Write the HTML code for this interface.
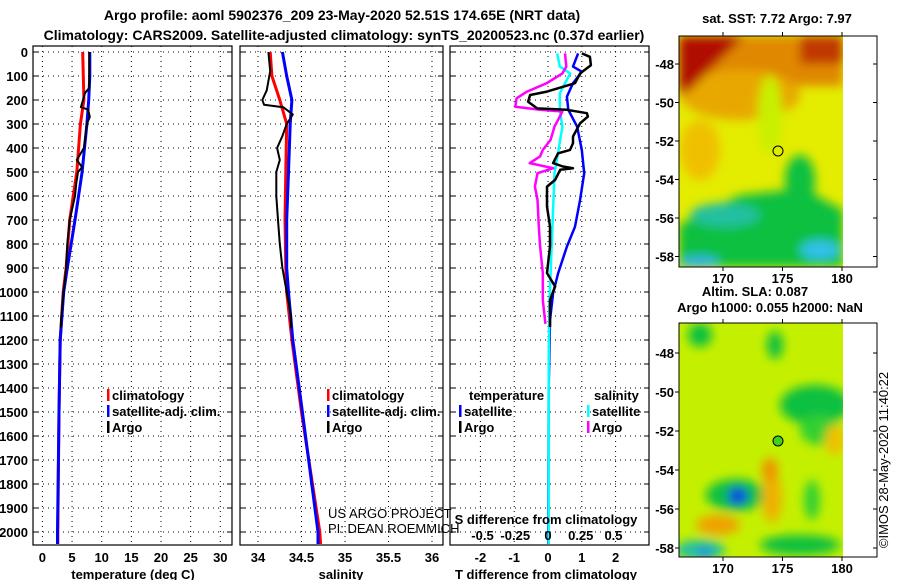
<!DOCTYPE html>
<html><head><meta charset="utf-8"><style>
body{margin:0;background:#fff;width:900px;height:580px;overflow:hidden;font-family:"Liberation Sans",sans-serif}
svg text{font-family:"Liberation Sans",sans-serif}
.t{font-size:13px;font-weight:bold}
.n{font-size:13px;font-weight:normal}
</style></head><body>
<svg id="c" width="900" height="580" viewBox="0 0 900 580">
<defs>
<filter id="bl" x="-20%" y="-20%" width="140%" height="140%"><feGaussianBlur stdDeviation="5"/></filter>
<clipPath id="m1"><rect x="679" y="36" width="164" height="231"/></clipPath>
<clipPath id="m2"><rect x="679" y="323" width="164" height="234"/></clipPath>
</defs>
<g>
<text x="342" y="20" text-anchor="middle" font-size="14" font-weight="bold">Argo profile: aoml 5902376_209 23-May-2020 52.51S 174.65E (NRT data)</text>
<text x="344" y="40" text-anchor="middle" font-size="14" font-weight="bold">Climatology: CARS2009. Satellite-adjusted climatology: synTS_20200523.nc (0.37d earlier)</text>
</g>
<g id="plots"></g>
<g>
<text x="777" y="23" text-anchor="middle" class="t">sat. SST: 7.72 Argo: 7.97</text>
<g clip-path="url(#m1)">
<rect x="679" y="36" width="164" height="231" fill="#e4ec00"/>
<g filter="url(#bl)">
<rect x="679" y="36" width="164" height="50" fill="#e08800"/>
<ellipse cx="740" cy="95" rx="60" ry="25" fill="#e8a800"/>
<ellipse cx="700" cy="150" rx="20" ry="30" fill="#f0c000"/>
<polygon points="679,36 745,36 720,60 690,90 679,95" fill="#b01000"/>
<rect x="800" y="36" width="43" height="28" fill="#c03800"/>
<ellipse cx="770" cy="115" rx="12" ry="40" fill="#c8f000"/>
<polygon points="679,225 740,195 790,190 805,160 815,195 843,210 843,267 679,267" fill="#10c040"/>
<ellipse cx="725" cy="215" rx="35" ry="12" fill="#20c0a0"/>
<ellipse cx="820" cy="250" rx="20" ry="10" fill="#30c0e8"/>
<ellipse cx="700" cy="262" rx="20" ry="6" fill="#30b0e8"/>
<ellipse cx="800" cy="180" rx="15" ry="25" fill="#10c040"/>
</g>
</g>
<rect x="679" y="36" width="198" height="231" fill="none" stroke="#000" stroke-width="1"/>
<circle cx="778" cy="151" r="5" fill="none" stroke="#000"/>
</g>
<g>
<text x="755" y="296" text-anchor="middle" class="t">Altim. SLA: 0.087</text>
<text x="770" y="312" text-anchor="middle" class="t">Argo h1000: 0.055 h2000: NaN</text>
<g clip-path="url(#m2)">
<rect x="679" y="323" width="164" height="234" fill="#c4f000"/>
<g filter="url(#bl)">
<ellipse cx="700" cy="335" rx="12" ry="12" fill="#10c040"/>
<ellipse cx="775" cy="345" rx="8" ry="14" fill="#10c040"/>
<ellipse cx="815" cy="405" rx="35" ry="20" fill="#10c040"/>
<ellipse cx="820" cy="430" rx="20" ry="15" fill="#30d030"/>
<ellipse cx="736" cy="495" rx="30" ry="16" fill="#10c040"/>
<ellipse cx="738" cy="496" rx="10" ry="9" fill="#1040e0"/>
<ellipse cx="700" cy="550" rx="25" ry="10" fill="#20c0a0"/>
<ellipse cx="705" cy="553" rx="7" ry="5" fill="#2080f0"/>
<ellipse cx="772" cy="498" rx="10" ry="25" fill="#f0b000"/>
<ellipse cx="770" cy="470" rx="8" ry="12" fill="#f09000"/>
<ellipse cx="718" cy="525" rx="22" ry="10" fill="#f0a000"/>
<ellipse cx="835" cy="440" rx="10" ry="15" fill="#f0c000"/>
<ellipse cx="800" cy="545" rx="40" ry="10" fill="#10c040"/>
<ellipse cx="812" cy="500" rx="8" ry="20" fill="#30d030"/>
</g>
</g>
<rect x="679" y="323" width="198" height="234" fill="none" stroke="#000" stroke-width="1"/>
<circle cx="778" cy="441" r="5" fill="#40d020" stroke="#000"/>
<text transform="translate(888,460) rotate(-90)" text-anchor="middle" font-size="13">©IMOS 28-May-2020 11:40:22</text>
</g>
</svg>
<script>
// ---- data ----
const depthTicks = [0,100,200,300,400,500,600,700,800,900,1000,1100,1200,1300,1400,1500,1600,1700,1800,1900,2000];
const tempTicks = [0,5,10,15,20,25,30];
const salTicks = [34,34.5,35,35.5,36];
const dtTicks = [-2,-1,0,1,2];
const dsTicks = [-0.5,-0.25,0,0.25,0.5];
const dsTickLabels = ['-0.5','-0.25','0','0.25','0.5'];

const climDepth = [0,100,200,300,500,700,900,1000,1200,1500,2000,2050];
const tempClim = [6.8,6.9,7.0,6.4,5.8,4.6,4.0,3.5,3.0,2.8,2.6,2.6];
const tempSat = [8.0,8.0,7.8,7.5,6.7,5.5,4.2,3.6,3.0,2.8,2.55,2.55];
const salClim = [34.14,34.16,34.25,34.33,34.32,34.31,34.32,34.33,34.39,34.5,34.71,34.72];
const salSat = [34.28,34.33,34.39,34.37,34.35,34.33,34.33,34.35,34.40,34.51,34.69,34.69];

const argoDepth = [0,150,170,230,240,270,300,400,450,480,500,550,600,700,800,900,1000,1100,1150];
const tempArgo = [7.9,7.9,7.2,6.5,7.7,8.0,7.5,7.0,5.8,6.7,6.0,5.7,5.5,4.6,4.2,4.0,3.6,3.2,3.1];
const salArgoDepth = [0,80,160,200,220,230,260,300,350,400,450,500,600,700,800,900,1000,1100,1150];
const salArgo = [34.12,34.14,34.10,34.05,34.07,34.29,34.40,34.33,34.28,34.22,34.25,34.21,34.21,34.23,34.25,34.28,34.33,34.38,34.38];

const dtSatDepth = [6,61,82,130,186,241,311,408,505,616,728,811,922,1005,1117,1400,2050];
const dtSat = [0.89,0.74,1.0,0.74,0.56,0.6,0.86,1.0,1.07,0.95,0.8,0.56,0.3,0.15,0.06,0.02,0.01];
const dtArgoDepth = [6,20,55,89,130,165,179,207,235,241,255,269,297,352,380,408,422,463,477,484,491,533,561,602,644,727,810,921,977,1033,1146];
const dtArgo = [1.0,1.24,1.27,0.95,0.8,-0.03,-0.53,-0.59,-0.32,0.56,1.15,1.18,0.95,0.74,0.74,0.65,0.3,0.15,0.44,0.74,0.36,0.21,-0.03,-0.03,-0.03,0.06,0.06,-0.03,0.21,0.06,0.06];
const dsArgoDepth = [6,61,89,130,165,193,228,241,248,269,311,366,408,435,463,484,505,561,616,727,810,921,1033,1133];
const dsArgo = [0.13,0.14,0.11,-0.01,-0.16,-0.24,-0.25,-0.06,0.11,0.09,0.05,0.02,-0.04,-0.06,-0.14,0.04,-0.08,-0.10,-0.08,-0.07,-0.06,-0.04,-0.04,-0.02];
const dsSatDepth = [6,61,89,130,172,241,311,408,505,644,783,921,1060,1300,2050];
const dsSat = [0.07,0.09,0.17,0.13,0.09,0.09,0.11,0.08,0.05,0.04,0.03,0.02,0.01,0.005,0.005];

// ---- axes ----
const Y0=52, KY=0.24;
const yD = d => Y0 + d*KY;
const xT = v => 42.4 + v*5.93;
const xS = v => 258 + (v-34)*87;
const xDT = v => 548 + v*33.8;
const xDS = v => 548 + v*131;
const panels = [{x0:33,x1:232},{x0:240,x1:443},{x0:450,x1:649}];
const PB = 545;
const NS='http://www.w3.org/2000/svg';
const root=document.getElementById('plots');
function el(tag,attrs,parent){const e=document.createElementNS(NS,tag);for(const k in attrs)e.setAttribute(k,attrs[k]);(parent||root).appendChild(e);return e;}
function txt(x,y,s,anchor,cls,parent){const t=el('text',{x:x,y:y,'text-anchor':anchor||'middle','class':cls||'t'},parent);t.textContent=s;return t;}

panels.forEach((p,i)=>{
  const g=el('g',{});
  
  
  const clip=el('clipPath',{id:'pc'+i},g); el('rect',{x:p.x0,y:Y0-6,width:p.x1-p.x0,height:PB-Y0+6},clip);
  p.g=g;
  depthTicks.forEach(d=>{
    const l=el('line',{x1:p.x0,x2:p.x1,y1:yD(d),y2:yD(d),stroke:'#000','stroke-dasharray':'1,4','stroke-width':1},g);
    
    
    el('line',{x1:p.x0,x2:p.x0+5,y1:yD(d),y2:yD(d),stroke:'#000'},g);
    el('line',{x1:p.x1-5,x2:p.x1,y1:yD(d),y2:yD(d),stroke:'#000'},g);
  });
});
function vgrid(p,vals,fx){vals.forEach(v=>{const l=el('line',{x1:fx(v),x2:fx(v),y1:Y0-6,y2:PB,stroke:'#000','stroke-dasharray':'1,4'},p.g);
  
  });}
vgrid(panels[0],tempTicks,xT);
vgrid(panels[1],salTicks,xS);
vgrid(panels[2],dtTicks,xDT);

depthTicks.forEach(d=>{const t=txt(28,yD(d)+5,String(d),'end');
  
  });
function xlabels(vals,fx,labels,y){vals.forEach((v,i)=>{const t=txt(fx(v),y,labels?labels[i]:String(v));
  
  });}
xlabels(tempTicks,xT,null,562);
xlabels(salTicks,xS,null,562);
xlabels(dtTicks,xDT,null,562);
xlabels(dsTicks,xDS,dsTickLabels,540);
[['temperature (deg C)',133],['salinity',341],['T difference from climatology',546]].forEach(a=>{
  const t=txt(a[1],579,a[0]);
  
  });
const sdt=txt(546,524,'S difference from climatology');



function series(p,depths,vals,fx,color,w,name){
  const pts=depths.map((d,i)=>fx(vals[i]).toFixed(1)+','+yD(d).toFixed(1)).join(' ');
  const l=el('polyline',{points:pts,fill:'none',stroke:color,'stroke-width':w,'clip-path':'url(#pc'+panels.indexOf(p)+')','stroke-linejoin':'round'},p.g);
  
  
}
series(panels[0],climDepth,tempClim,xT,'#f00',3,'temp-climatology-line');
series(panels[0],climDepth,tempSat,xT,'#00f',3,'temp-satellite-line');
series(panels[0],argoDepth,tempArgo,xT,'#000',2,'temp-argo-line');
series(panels[1],climDepth,salClim,xS,'#f00',3,'sal-climatology-line');
series(panels[1],climDepth,salSat,xS,'#00f',3,'sal-satellite-line');
series(panels[1],salArgoDepth,salArgo,xS,'#000',2,'sal-argo-line');
series(panels[2],dtSatDepth,dtSat,xDT,'#00f',2.5,'tdiff-satellite-line');
series(panels[2],dsSatDepth,dsSat,xDS,'#0ff',2.5,'sdiff-satellite-line');
series(panels[2],dsArgoDepth,dsArgo,xDS,'#f0f',2.5,'sdiff-argo-line');
series(panels[2],dtArgoDepth,dtArgo,xDT,'#000',2.5,'tdiff-argo-line');

panels.forEach(p=>{const r=el('rect',{x:p.x0,y:Y0-6,width:p.x1-p.x0,height:PB-Y0+6,fill:'none',stroke:'#000','stroke-width':1.2},p.g);
  
  });

function legend(x,y,color,label,name){
  const g=el('g',{});
  
  
  el('rect',{x:x,y:y-11,width:2.5,height:12,fill:color},g);
  txt(x+5,y,label,'start','t',g);
}
legend(107,400,'#f00','climatology','legend-climatology');
legend(107,416,'#00f','satellite-adj. clim.','legend-satellite');
legend(107,432,'#000','Argo','legend-argo');
legend(327,400,'#f00','climatology','legend-sal-climatology');
legend(327,416,'#00f','satellite-adj. clim.','legend-sal-satellite');
legend(327,432,'#000','Argo','legend-sal-argo');
const th=txt(469,400,'temperature','start');  
const sh=txt(594,400,'salinity','start');  
legend(459,416,'#00f','satellite','legend-tdiff-satellite');
legend(459,432,'#000','Argo','legend-tdiff-argo');
legend(587,416,'#0ff','satellite','legend-sdiff-satellite');
legend(587,432,'#f0f','Argo','legend-sdiff-argo');

const c1=txt(328,518,'US ARGO PROJECT','start','n');  
const c2=txt(328,533,'PI: DEAN ROEMMICH','start','n');  

const mapG=document.getElementById('c');
const lats=[-48,-50,-52,-54,-56,-58];
const lons=[170,175,180];
[[64,38.5,36,267,283],[353,39,323,557,573]].forEach((m,mi)=>{
  lats.forEach((la,i)=>{const y=m[0]+i*m[1];
    el('line',{x1:679,x2:675,y1:y,y2:y,stroke:'#000'},mapG);
    el('line',{x1:877,x2:873,y1:y,y2:y,stroke:'#000'},mapG);
    const t=txt(674,y+5,String(la),'end','t',mapG);
    
    });
  lons.forEach(lo=>{const x=723+(lo-170)*11.9;
    el('line',{x1:x,x2:x,y1:m[2],y2:m[2]-4,stroke:'#000'},mapG);
    el('line',{x1:x,x2:x,y1:m[3],y2:m[3]+4,stroke:'#000'},mapG);
    const t=txt(x,m[4],String(lo),'middle','t',mapG);
    
    });
});
</script>
</body></html>
